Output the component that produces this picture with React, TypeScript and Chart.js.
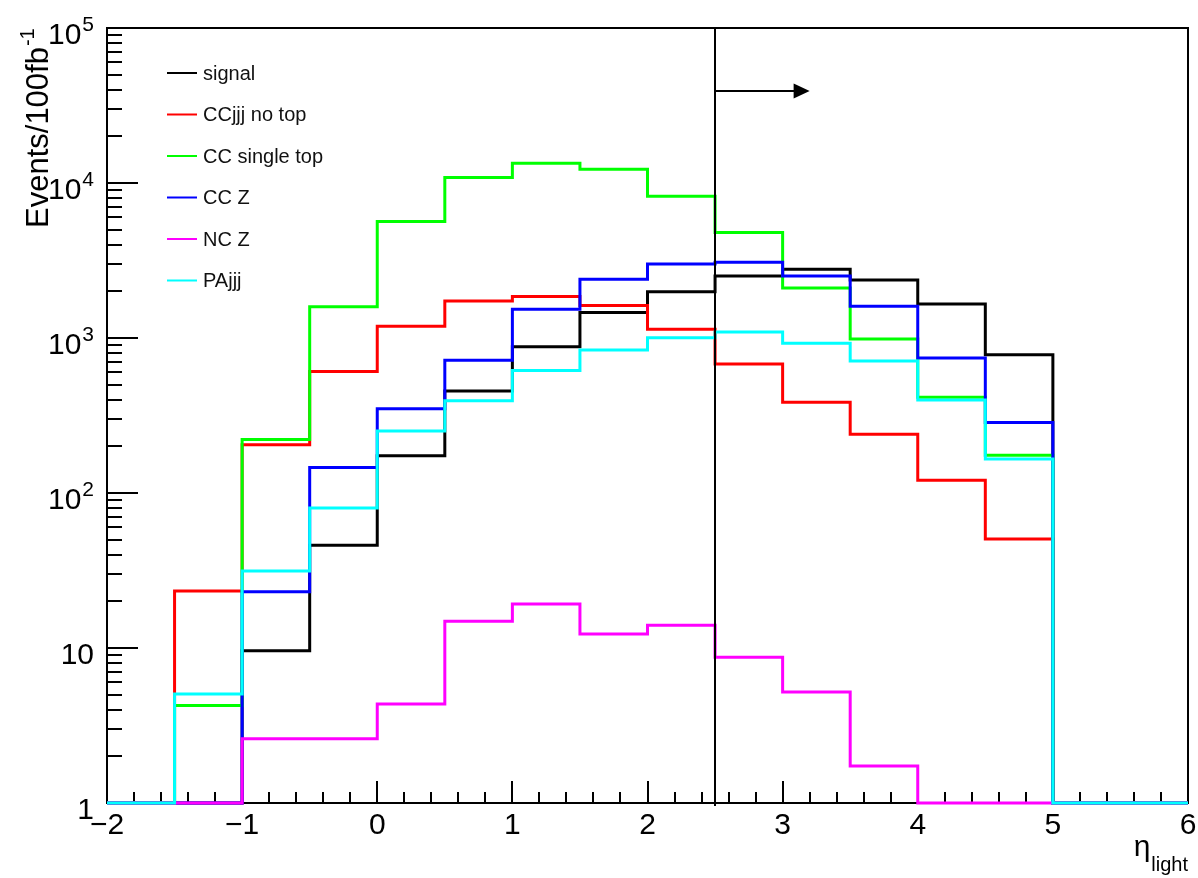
import React, { useEffect, useRef } from "react";
import { Chart, registerables } from "chart.js";

Chart.register(...registerables);

// ---- data ----
const BIN_EDGES = [-2, -1.5, -1, -0.5, 0, 0.5, 1, 1.5, 2, 2.5, 3, 3.5, 4, 4.5, 5, 5.5, 6];
const SERIES_NAMES = ["signal", "CCjjj no top", "CC single top", "CC Z", "NC Z", "PAjjj"];
const SERIES_COLORS = ["#000000", "#ff0000", "#00ff00", "#0000ff", "#ff00ff", "#00ffff"];

const SIGNAL = [0, 0, 9.6, 46, 174, 455, 878, 1460, 1990, 2510, 2780, 2370, 1660, 780, 0, 0];
const CCJJJ_NO_TOP = [0, 23.3, 205, 608, 1192, 1735, 1855, 1620, 1140, 680, 385, 239, 121, 50.5, 0, 0];
const CC_SINGLE_TOP = [0, 4.25, 221, 1590, 5650, 10850, 13400, 12250, 8200, 4800, 2100, 985, 415, 175, 0, 0];
const CC_Z = [0, 0, 23.1, 146, 350, 718, 1530, 2390, 3000, 3080, 2510, 1605, 743, 285, 0, 0];
const NC_Z = [0, 0, 2.6, 2.6, 4.35, 14.9, 19.2, 12.3, 14.0, 8.7, 5.2, 1.73, 0, 0, 0, 0];
const PAJJJ = [0, 5.05, 31.4, 80, 251, 393, 618, 836, 1004, 1095, 925, 710, 398, 166, 0, 0];

const SERIES_VALUES = [SIGNAL, CCJJJ_NO_TOP, CC_SINGLE_TOP, CC_Z, NC_Z, PAJJJ];

const X_TICK_VALUES = [-2, -1, 0, 1, 2, 3, 4, 5, 6];
const X_TICK_LABELS = ["\u22122", "\u22121", "0", "1", "2", "3", "4", "5", "6"];
const Y_TICK_VALUES = [1, 10, 100, 1000, 10000, 100000];
const Y_TICK_LABELS = ["1", "10", "10^2", "10^3", "10^4", "10^5"];

const Y_TITLE = "Events/100fb";
const Y_TITLE_SUP = "-1";
const X_TITLE = "\u03b7";
const X_TITLE_SUB = "light";

const X_MIN = -2;
const X_MAX = 6;
const Y_MIN = 1;
const Y_MAX = 100000;
const CUT_X = 2.5;
const ARROW_END_X = 3.2;
const ARROW_Y = 39000;

const FONT = "'Liberation Sans', Arial, Helvetica, sans-serif";

function toPoints(values: number[]) {
  const pts = values.map((v, i) => ({ x: BIN_EDGES[i], y: v > 0 ? v : Y_MIN }));
  const last = values[values.length - 1];
  pts.push({ x: BIN_EDGES[BIN_EDGES.length - 1], y: last > 0 ? last : Y_MIN });
  return pts;
}

const rootStyle = {
  id: "rootStyle",
  beforeDatasetsDraw(chart: any) {
    const { ctx, chartArea: a } = chart;
    const xs = chart.scales.x;
    const ys = chart.scales.y;
    ctx.save();
    ctx.strokeStyle = "#000";
    ctx.lineWidth = 2;
    ctx.strokeRect(a.left, a.top, a.right - a.left, a.bottom - a.top);

    // x ticks (inside)
    ctx.lineWidth = 2;
    const nX = Math.round((X_MAX - X_MIN) / 0.2);
    for (let k = 0; k <= nX; k++) {
      const v = X_MIN + k * 0.2;
      const px = Math.round(xs.getPixelForValue(v));
      const major = k % 5 === 0;
      ctx.beginPath();
      ctx.moveTo(px, a.bottom);
      ctx.lineTo(px, a.bottom - (major ? 22 : 11));
      ctx.stroke();
    }
    // y ticks (inside)
    for (let d = 0; d < 5; d++) {
      for (let m = 1; m <= 9; m++) {
        const v = Math.pow(10, d) * m;
        const py = Math.round(ys.getPixelForValue(v));
        ctx.beginPath();
        ctx.moveTo(a.left, py);
        ctx.lineTo(a.left + (m === 1 ? 31 : 15), py);
        ctx.stroke();
      }
    }

    // x tick labels
    ctx.fillStyle = "#000";
    ctx.font = `30px ${FONT}`;
    ctx.textAlign = "center";
    ctx.textBaseline = "alphabetic";
    X_TICK_VALUES.forEach((v, i) => {
      ctx.fillText(X_TICK_LABELS[i], xs.getPixelForValue(v), a.bottom + 31);
    });

    // y tick labels
    const rightX = a.left - 13;
    Y_TICK_VALUES.forEach((v, i) => {
      const py = ys.getPixelForValue(v);
      const lab = Y_TICK_LABELS[i];
      const parts = lab.split("^");
      ctx.textAlign = "right";
      if (parts.length === 1) {
        ctx.font = `30px ${FONT}`;
        ctx.fillText(parts[0], rightX, py + 16);
      } else {
        ctx.font = `21px ${FONT}`;
        const ew = ctx.measureText(parts[1]).width;
        ctx.fillText(parts[1], rightX, py + 3);
        ctx.font = `30px ${FONT}`;
        ctx.fillText(parts[0], rightX - ew - 1, py + 16);
      }
    });

    // y title
    ctx.save();
    ctx.translate(a.left - 59, 228);
    ctx.rotate(-Math.PI / 2);
    ctx.textAlign = "left";
    ctx.font = `31px ${FONT}`;
    ctx.fillText(Y_TITLE, 0, 0);
    const tw = ctx.measureText(Y_TITLE).width;
    ctx.font = `20px ${FONT}`;
    ctx.fillText(Y_TITLE_SUP, tw + 1, -14);
    ctx.restore();

    // x title
    ctx.textAlign = "right";
    ctx.font = `20px ${FONT}`;
    const sw = ctx.measureText(X_TITLE_SUB).width;
    ctx.fillText(X_TITLE_SUB, a.right, a.bottom + 68);
    ctx.font = `30px ${FONT}`;
    ctx.fillText(X_TITLE, a.right - sw - 1, a.bottom + 53);
    ctx.restore();
  },
  afterDatasetsDraw(chart: any) {
    const { ctx, chartArea: a } = chart;
    const xs = chart.scales.x;
    const ys = chart.scales.y;
    ctx.save();
    // cut line
    const cx = Math.round(xs.getPixelForValue(CUT_X));
    ctx.strokeStyle = "#000";
    ctx.lineWidth = 2;
    ctx.beginPath();
    ctx.moveTo(cx, a.top);
    ctx.lineTo(cx, a.bottom + 3);
    ctx.stroke();
    // arrow
    const ay = Math.round(ys.getPixelForValue(ARROW_Y));
    const ax2 = xs.getPixelForValue(ARROW_END_X);
    ctx.beginPath();
    ctx.moveTo(cx, ay);
    ctx.lineTo(ax2 - 14, ay);
    ctx.stroke();
    ctx.fillStyle = "#000";
    ctx.beginPath();
    ctx.moveTo(ax2, ay);
    ctx.lineTo(ax2 - 16, ay - 7.5);
    ctx.lineTo(ax2 - 16, ay + 7.5);
    ctx.closePath();
    ctx.fill();

    // legend
    const ds = chart.data.datasets;
    ds.forEach((d: any, i: number) => {
      const ly = 73 + i * 41.5;
      ctx.strokeStyle = d.borderColor;
      ctx.lineWidth = 2;
      ctx.beginPath();
      ctx.moveTo(167, ly);
      ctx.lineTo(197, ly);
      ctx.stroke();
      ctx.fillStyle = "#111";
      ctx.font = `20px ${FONT}`;
      ctx.textAlign = "left";
      ctx.textBaseline = "middle";
      ctx.fillText(d.label, 203, ly + 1);
    });
    ctx.restore();
  },
};

export default function App() {
  const ref = useRef<HTMLCanvasElement | null>(null);
  useEffect(() => {
    if (!ref.current) return;
    const n = SERIES_NAMES.length;
    const chart = new Chart(ref.current, {
      type: "line",
      data: {
        datasets: SERIES_NAMES.map((name, i) => ({
          label: name,
          data: toPoints(SERIES_VALUES[i]),
          borderColor: SERIES_COLORS[i],
          backgroundColor: SERIES_COLORS[i],
          borderWidth: 3,
          pointRadius: 0,
          stepped: "before" as const,
          fill: false,
          clip: false as any,
          order: n - 1 - i,
          borderJoinStyle: "miter" as const,
          borderCapStyle: "butt" as const,
        })),
      },
      options: {
        responsive: false,
        animation: false,
        events: [],
        layout: { padding: { left: 107, top: 28, right: 10, bottom: 75 } },
        scales: {
          x: { type: "linear", min: X_MIN, max: X_MAX, display: false },
          y: { type: "logarithmic", min: Y_MIN, max: Y_MAX, display: false },
        },
        plugins: { legend: { display: false }, tooltip: { enabled: false } },
      },
      plugins: [rootStyle],
    });
    return () => chart.destroy();
  }, []);
  return (
    <div style={{ position: "fixed", left: 0, top: 0, width: 1198, height: 878, background: "#fff" }}>
      <canvas ref={ref} width={1198} height={878} style={{ width: 1198, height: 878, display: "block" }} />
    </div>
  );
}
